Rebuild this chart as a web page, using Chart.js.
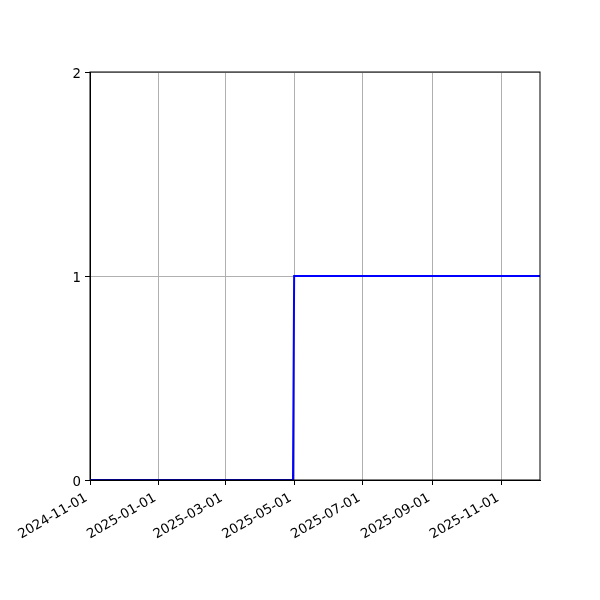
<!DOCTYPE html>
<html>
<head>
<meta charset="utf-8">
<script src="https://cdn.jsdelivr.net/npm/chart.js@4"></script>
<style>
  html, body { margin: 0; padding: 0; background: #fff; }
  #wrap { width: 600px; height: 600px; }
</style>
</head>
<body>
<div id="wrap"><canvas id="chart" width="600" height="600"></canvas></div>
<script>
// series: one step from 0 to 1 at the start of May 2025
const dates = ['2024-11-01', '2025-04-30', '2025-05-01', '2025-12-05'];
const values = [0, 0, 1, 1];

// axis ticks
const xTickDates = ['2024-11-01', '2025-01-01', '2025-03-01', '2025-05-01', '2025-07-01', '2025-09-01', '2025-11-01'];
const yTicks = [0, 1, 2];
const xMin = '2024-11-01';
const xMax = '2025-12-05';

const toMs = d => Date.parse(d + 'T00:00:00Z');
const fmt = ms => new Date(ms).toISOString().slice(0, 10);

const frame = {
    id: 'frame',
    afterDraw(chart) {
        const { ctx, chartArea: a } = chart;
        ctx.save();
        ctx.strokeStyle = '#000';
        ctx.lineWidth = 1;
        ctx.strokeRect(a.left, a.top, a.right - a.left, a.bottom - a.top);
        ctx.restore();
    }
};

const xFont = { family: 'DejaVu Sans', size: 13.3 };
// small line height + empty first line nudges y labels down to sit centred on the tick
const yFont = { family: 'DejaVu Sans', size: 13.3, lineHeight: 0.45 };

new Chart(document.getElementById('chart'), {
    type: 'line',
    data: {
        datasets: [{
            data: dates.map((d, i) => ({ x: toMs(d), y: values[i] })),
            borderColor: '#0000ff',
            borderWidth: 2,
            pointRadius: 0,
            tension: 0,
            fill: false
        }]
    },
    options: {
        responsive: false,
        animation: false,
        layout: { padding: { top: 72, right: 60, left: 0, bottom: 0 } },
        plugins: { legend: { display: false }, tooltip: { enabled: false } },
        scales: {
            x: {
                type: 'linear',
                min: toMs(xMin),
                max: toMs(xMax),
                afterBuildTicks: s => { s.ticks = xTickDates.map(d => ({ value: toMs(d) })); },
                afterFit: s => { s.height = 120; },
                ticks: {
                    autoSkip: false,
                    minRotation: 30,
                    maxRotation: 30,
                    padding: 3,
                    color: '#000',
                    font: xFont,
                    callback: v => fmt(v) + ' '
                },
                grid: { color: '#b0b0b0', lineWidth: 1, tickColor: '#000', tickLength: 5 },
                border: { color: '#000', width: 1 }
            },
            y: {
                min: 0,
                max: 2,
                afterBuildTicks: s => { s.ticks = yTicks.map(v => ({ value: v })); },
                afterFit: s => { s.width = 90; },
                ticks: { color: '#000', font: yFont, padding: 4, callback: v => ['', String(v)] },
                grid: { color: '#b0b0b0', lineWidth: 1, tickColor: '#000', tickLength: 5 },
                border: { color: '#000', width: 1 }
            }
        }
    },
    plugins: [frame]
});
</script>
</body>
</html>
